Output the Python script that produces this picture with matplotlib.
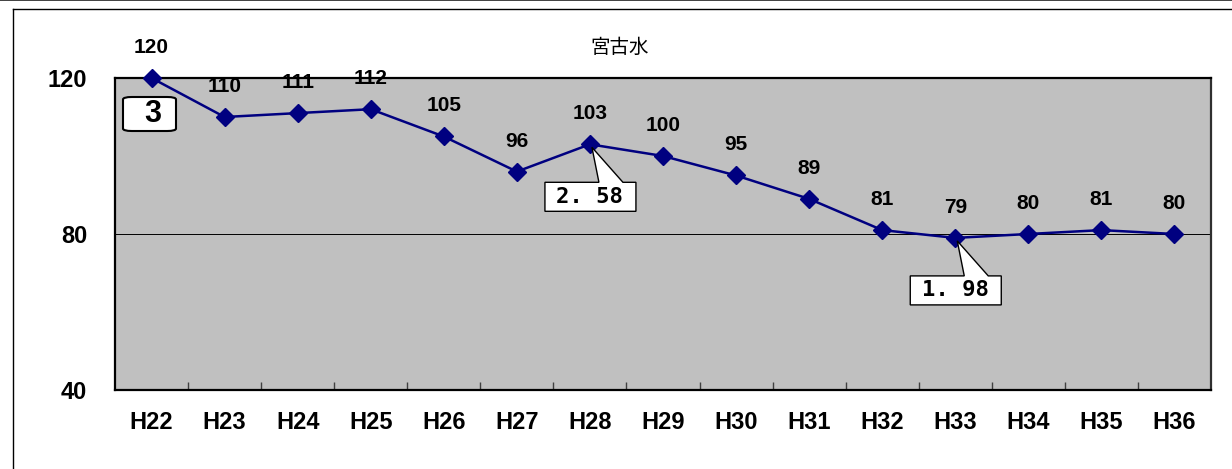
import matplotlib.pyplot as plt
import matplotlib.transforms as mtransforms
from matplotlib.lines import Line2D
from matplotlib.patches import FancyBboxPatch, Polygon

# data
years = ["H22", "H23", "H24", "H25", "H26", "H27", "H28", "H29",
         "H30", "H31", "H32", "H33", "H34", "H35", "H36"]
values = [120, 110, 111, 112, 105, 96, 103, 100, 95, 89, 81, 79, 80, 81, 80]
y_ticks = [40, 80, 120]
title = "宮古水"
panel_no = "3"
# callouts: (index of point, text)
callouts = [(6, "2. 58"), (11, "1. 98")]

plt.rcParams['font.family'] = ['Liberation Sans', 'DejaVu Sans']

W, H = 1232, 469
fig = plt.figure(figsize=(W / 100, H / 100), dpi=100)
ax = fig.add_axes([115 / W, 1 - 390 / H, (1211 - 115) / W, (390 - 78) / H])
ax.set_facecolor("#c0c0c0")

xs = list(range(len(years)))
ax.plot(xs, values, color="#000080", lw=1.8, marker="D", ms=9,
        mfc="#000080", mec="#000080", zorder=3, clip_on=False)

for x, v in zip(xs, values):
    ax.annotate(str(v), (x, v), xytext=(0, 22), textcoords="offset points",
                ha="center", va="center", fontsize=15, fontweight="bold",
                annotation_clip=False)

ax.set_xlim(-0.5, len(years) - 0.5)
ax.set_ylim(40, 120)
ax.set_yticks(y_ticks)
ax.set_yticklabels([str(t) for t in y_ticks], fontsize=17, fontweight="bold")
ax.tick_params(axis="y", length=0, pad=20)
ax.set_xticks(xs)
ax.set_xticklabels(years, fontsize=17, fontweight="bold")
ax.tick_params(axis="x", which="major", length=0, pad=15)
ax.set_xticks([i + 0.5 for i in xs[:-1]], minor=True)
ax.tick_params(axis="x", which="minor", direction="in", length=6, width=1,
               color="#404040")
ax.axhline(80, color="black", lw=0.7, zorder=1)

for side in ["left", "bottom", "top"]:
    ax.spines[side].set_linewidth(1.6)
    ax.spines[side].set_color("black")
ax.spines["right"].set_linewidth(1.6)
ax.spines["right"].set_color("#303030")

# panel number box
ax.add_patch(FancyBboxPatch((8 / 1096, (390 - 131) / 312), 53 / 1096, 34 / 312,
                            boxstyle="round,pad=0,rounding_size=0.008",
                            transform=ax.transAxes, fc="white", ec="black",
                            lw=1.5, zorder=4, mutation_aspect=312 / 1096 * 3.5))
ax.text(38 / 1096, (390 - 114) / 312, panel_no, transform=ax.transAxes,
        ha="center", va="center", fontsize=22, fontweight="bold", zorder=5)


def callout(i, txt):
    # shape in pixels relative to the data point (y down)
    x, y = xs[i], values[i]
    t = fig.dpi_scale_trans + mtransforms.ScaledTranslation(x, y, ax.transData)
    bx0, bx1, by0, by1 = -45, 46, 38, 67
    w0, w1 = 9, 33
    pts = [(2, 3), (w1, by0), (bx1, by0), (bx1, by1), (bx0, by1),
           (bx0, by0), (w0, by0)]
    pts = [(px / 100, -py / 100) for px, py in pts]
    ax.add_patch(Polygon(pts, closed=True, transform=t, fc="white",
                         ec="black", lw=1.0, zorder=4, clip_on=False))
    ax.annotate(txt, (x, y), xytext=(0, -(by0 + by1) / 2 * 0.72),
                textcoords="offset points", ha="center", va="center",
                fontsize=16, fontweight="bold", family=["DejaVu Sans Mono"],
                zorder=5, annotation_clip=False)


for i, txt in callouts:
    callout(i, txt)

fig.text(620 / W, 1 - 47 / H, title, ha="center", va="center", fontsize=14,
         family=["Noto Sans CJK JP", "DejaVu Sans"])

# outer frame lines
fig.add_artist(Line2D([0, 1], [1 - 0.5 / H, 1 - 0.5 / H], color="#202020", lw=1.2))
fig.add_artist(Line2D([13 / W, 1], [1 - 9 / H, 1 - 9 / H], color="black", lw=1.0))
fig.add_artist(Line2D([13 / W, 13 / W], [0, 1 - 9 / H], color="black", lw=1.0))

fig.savefig("out.png", dpi=100)
